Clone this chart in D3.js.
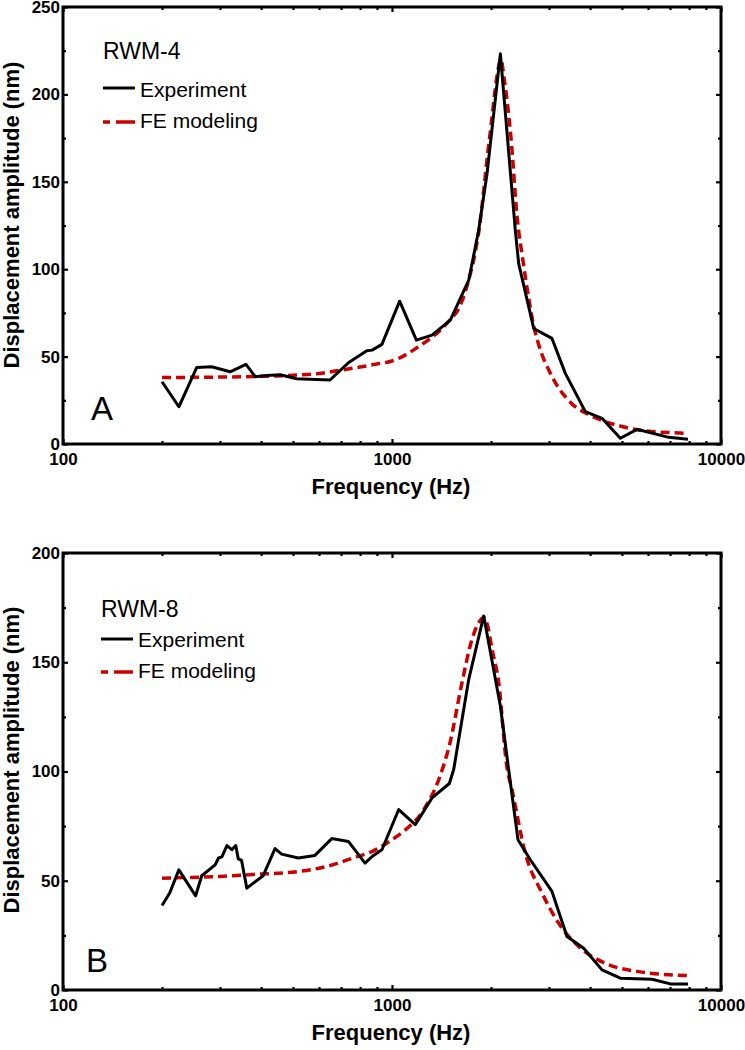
<!DOCTYPE html>
<html>
<head>
<meta charset="utf-8">
<script src="https://cdn.jsdelivr.net/npm/d3@7"></script>
<style>
  html, body { margin: 0; padding: 0; background: #fff; }
  svg { display: block; font-family: "Liberation Sans", Arial, Helvetica, sans-serif; }
</style>
</head>
<body>
<svg id="chart" width="745" height="1050"></svg>
<script>
// ---------------- DATA ----------------
const xMajorTicks = [100, 1000, 10000];
const xMinorTicks = [200, 300, 400, 500, 600, 700, 800, 900, 2000, 3000, 4000, 5000, 6000, 7000, 8000, 9000];
const yTicksA = [0, 50, 100, 150, 200, 250];
const yMinorA = [25, 75, 125, 175, 225];
const yTicksB = [0, 50, 100, 150, 200];
const yMinorB = [25, 75, 125, 175];

// Panel A (RWM-4)
const expA_freq = [200, 225, 255, 283, 322, 360, 384, 416, 457, 513, 648, 737, 838, 870, 932, 1055, 1186, 1323, 1504, 1711, 1834, 1945, 2135, 2370, 2427, 2696, 3064, 3364, 3869, 4348, 4943, 5554, 6934, 7937];
const expA_amp  = [35.6, 21.3, 43.8, 44.2, 41.3, 45.5, 38.5, 39.2, 39.6, 37.3, 36.6, 46.5, 53.3, 53.7, 57, 81.7, 59.4, 62.3, 70.9, 93.7, 122.3, 154.7, 223.2, 122.3, 103.2, 66.1, 60.4, 40.4, 18.5, 14.7, 3.3, 8.4, 3.8, 2.7];
const feA_freq  = [200, 300, 400, 500, 600, 700, 800, 900, 1000, 1100, 1200, 1300, 1400, 1500, 1600, 1700, 1800, 1850, 1900, 1950, 2000, 2050, 2100, 2140, 2200, 2300, 2400, 2500, 2600, 2700, 2800, 3000, 3500, 4000, 4450, 5000, 5600, 6300, 7000, 7937];
const feA_amp   = [38, 38.3, 38.7, 39.3, 40.3, 42.3, 44, 45.8, 47.5, 51, 55.5, 60, 65, 71, 78, 92, 112, 126, 145, 165, 182, 200, 214, 220, 207, 175, 130, 105, 84, 67, 56, 42, 23.5, 16.5, 12.8, 10, 8, 7, 6.5, 6.1];

// Panel B (RWM-8)
const expB_freq = [200, 211, 225, 253, 264, 290, 297, 304, 315, 326, 335, 341, 349, 362, 406, 441, 462, 519, 583, 656, 737, 828, 870, 932, 1048, 1177, 1323, 1494, 1540, 1711, 1900, 2135, 2262, 2415, 2633, 3064, 3403, 3825, 4348, 4943, 6170, 7015, 7937];
const expB_amp  = [38.7, 44.4, 55, 43.1, 52.3, 57.3, 60.4, 60.9, 66.1, 64.2, 66.1, 60, 59.3, 46.6, 52.3, 64.7, 62.2, 60.4, 61.6, 69.3, 68, 58.1, 61.1, 64.2, 82.6, 75.7, 87.9, 94.5, 100.9, 142.2, 171.2, 130, 100.9, 68.8, 59.6, 45.1, 24.5, 19.1, 9.2, 5.4, 4.9, 2.8, 2.8];
const feB_freq  = [200, 300, 370, 525, 650, 760, 870, 1000, 1100, 1250, 1400, 1500, 1632, 1751, 1850, 1900, 1950, 2014, 2110, 2233, 2316, 2541, 2857, 3210, 3694, 4449, 5620, 7937];
const feB_amp   = [51.2, 52, 52.8, 54.3, 57, 60.4, 63.4, 68.8, 73.4, 82.6, 98, 113, 140.7, 160.6, 169, 170.5, 167, 156, 140.7, 102.4, 91.7, 62.7, 44.4, 30.6, 19.9, 12.2, 8.4, 6.6];

const legendLabels = ["Experiment", "FE modeling"];
const xTitle = "Frequency (Hz)";
const yTitle = "Displacement amplitude (nm)";

// ---------------- DRAW ----------------
const svg = d3.select("#chart");
const RED = "#cc0000";

function drawPanel(p) {
  const x = d3.scaleLog().domain([100, 10000]).range([63, 721]);
  const y = d3.scaleLinear().domain([0, p.ymax]).range([p.bottom, p.top]);
  const g = svg.append("g");

  const bMaj = g.append("g").attr("transform", `translate(0,${p.bottom})`)
    .call(d3.axisBottom(x).tickValues(xMajorTicks).tickSize(-5).tickPadding(9).tickFormat(d3.format("d")));
  const bMin = g.append("g").attr("transform", `translate(0,${p.bottom})`)
    .call(d3.axisBottom(x).tickValues(xMinorTicks).tickSize(-3).tickFormat(""));
  const tMaj = g.append("g").attr("transform", `translate(0,${p.top})`)
    .call(d3.axisTop(x).tickValues(xMajorTicks).tickSize(-5).tickFormat(""));
  const tMin = g.append("g").attr("transform", `translate(0,${p.top})`)
    .call(d3.axisTop(x).tickValues(xMinorTicks).tickSize(-3).tickFormat(""));
  const lMaj = g.append("g").attr("transform", `translate(63,0)`)
    .call(d3.axisLeft(y).tickValues(p.yTicks).tickSize(-5).tickPadding(3).tickFormat(d3.format("d")));
  const lMin = g.append("g").attr("transform", `translate(63,0)`)
    .call(d3.axisLeft(y).tickValues(p.yMinor).tickSize(-3).tickFormat(""));
  const rMaj = g.append("g").attr("transform", `translate(721,0)`)
    .call(d3.axisRight(y).tickValues(p.yTicks).tickSize(-5).tickFormat(""));
  const rMin = g.append("g").attr("transform", `translate(721,0)`)
    .call(d3.axisRight(y).tickValues(p.yMinor).tickSize(-3).tickFormat(""));

  [bMaj, bMin, tMaj, tMin, lMaj, lMin, rMaj, rMin].forEach(a => {
    a.select(".domain").remove();
    a.selectAll(".tick line").attr("stroke", "#000").attr("stroke-width", 2.2);
    a.selectAll(".tick text").attr("fill", "#000").attr("font-size", 17).attr("font-weight", "bold")
      .attr("font-family", "'Liberation Sans', Arial, sans-serif");
  });

  g.append("rect").attr("x", 63).attr("y", p.top).attr("width", 721 - 63).attr("height", p.bottom - p.top)
    .attr("fill", "none").attr("stroke", "#000").attr("stroke-width", 3);

  const lineFE = d3.line().x(d => x(d[0])).y(d => y(d[1])).curve(d3.curveMonotoneX);
  const lineExp = d3.line().x(d => x(d[0])).y(d => y(d[1]));
  g.append("path").datum(d3.zip(p.feF, p.feA)).attr("d", lineFE)
    .attr("fill", "none").attr("stroke", RED).attr("stroke-width", 3.5).attr("stroke-dasharray", "9,5");
  g.append("path").datum(d3.zip(p.expF, p.expA)).attr("d", lineExp)
    .attr("fill", "none").attr("stroke", "#000").attr("stroke-width", 3).attr("stroke-linejoin", "round");

  g.append("text").attr("x", p.legX).attr("y", p.legTitleY).attr("font-size", 23).text(p.name);
  g.append("line").attr("x1", p.legX).attr("x2", p.legX + 32).attr("y1", p.legExpLineY).attr("y2", p.legExpLineY)
    .attr("stroke", "#000").attr("stroke-width", 3);
  g.append("text").attr("x", p.legX + 37).attr("y", p.legExpY).attr("font-size", 21).text(legendLabels[0]);
  g.append("line").attr("x1", p.legX).attr("x2", p.legX + 32).attr("y1", p.legFELineY).attr("y2", p.legFELineY)
    .attr("stroke", RED).attr("stroke-width", 3.5).attr("stroke-dasharray", "7,6,20");
  g.append("text").attr("x", p.legX + 37).attr("y", p.legFEY).attr("font-size", 21).text(legendLabels[1]);

  g.append("text").attr("x", p.letterX).attr("y", p.letterY).attr("font-size", 33).text(p.letter);

  g.append("text").attr("x", 391).attr("y", p.bottom + 50).attr("text-anchor", "middle")
    .attr("font-size", 22).attr("font-weight", "bold").text(xTitle);
  g.append("text").attr("transform", `translate(19,${p.yTitleC}) rotate(-90)`).attr("text-anchor", "middle")
    .attr("font-size", 22).attr("font-weight", "bold").text(yTitle);
}

drawPanel({
  top: 7, bottom: 444, ymax: 250, yTicks: yTicksA, yMinor: yMinorA,
  expF: expA_freq, expA: expA_amp, feF: feA_freq, feA: feA_amp,
  name: "RWM-4", letter: "A",
  legX: 103, legTitleY: 59, legExpLineY: 88, legExpY: 97, legFELineY: 122, legFEY: 128,
  letterX: 91, letterY: 420, yTitleC: 215
});
drawPanel({
  top: 553, bottom: 990, ymax: 200, yTicks: yTicksB, yMinor: yMinorB,
  expF: expB_freq, expA: expB_amp, feF: feB_freq, feA: feB_amp,
  name: "RWM-8", letter: "B",
  legX: 101, legTitleY: 617, legExpLineY: 639, legExpY: 647, legFELineY: 672, legFEY: 678,
  letterX: 86, letterY: 972, yTitleC: 760
});
</script>
</body>
</html>
